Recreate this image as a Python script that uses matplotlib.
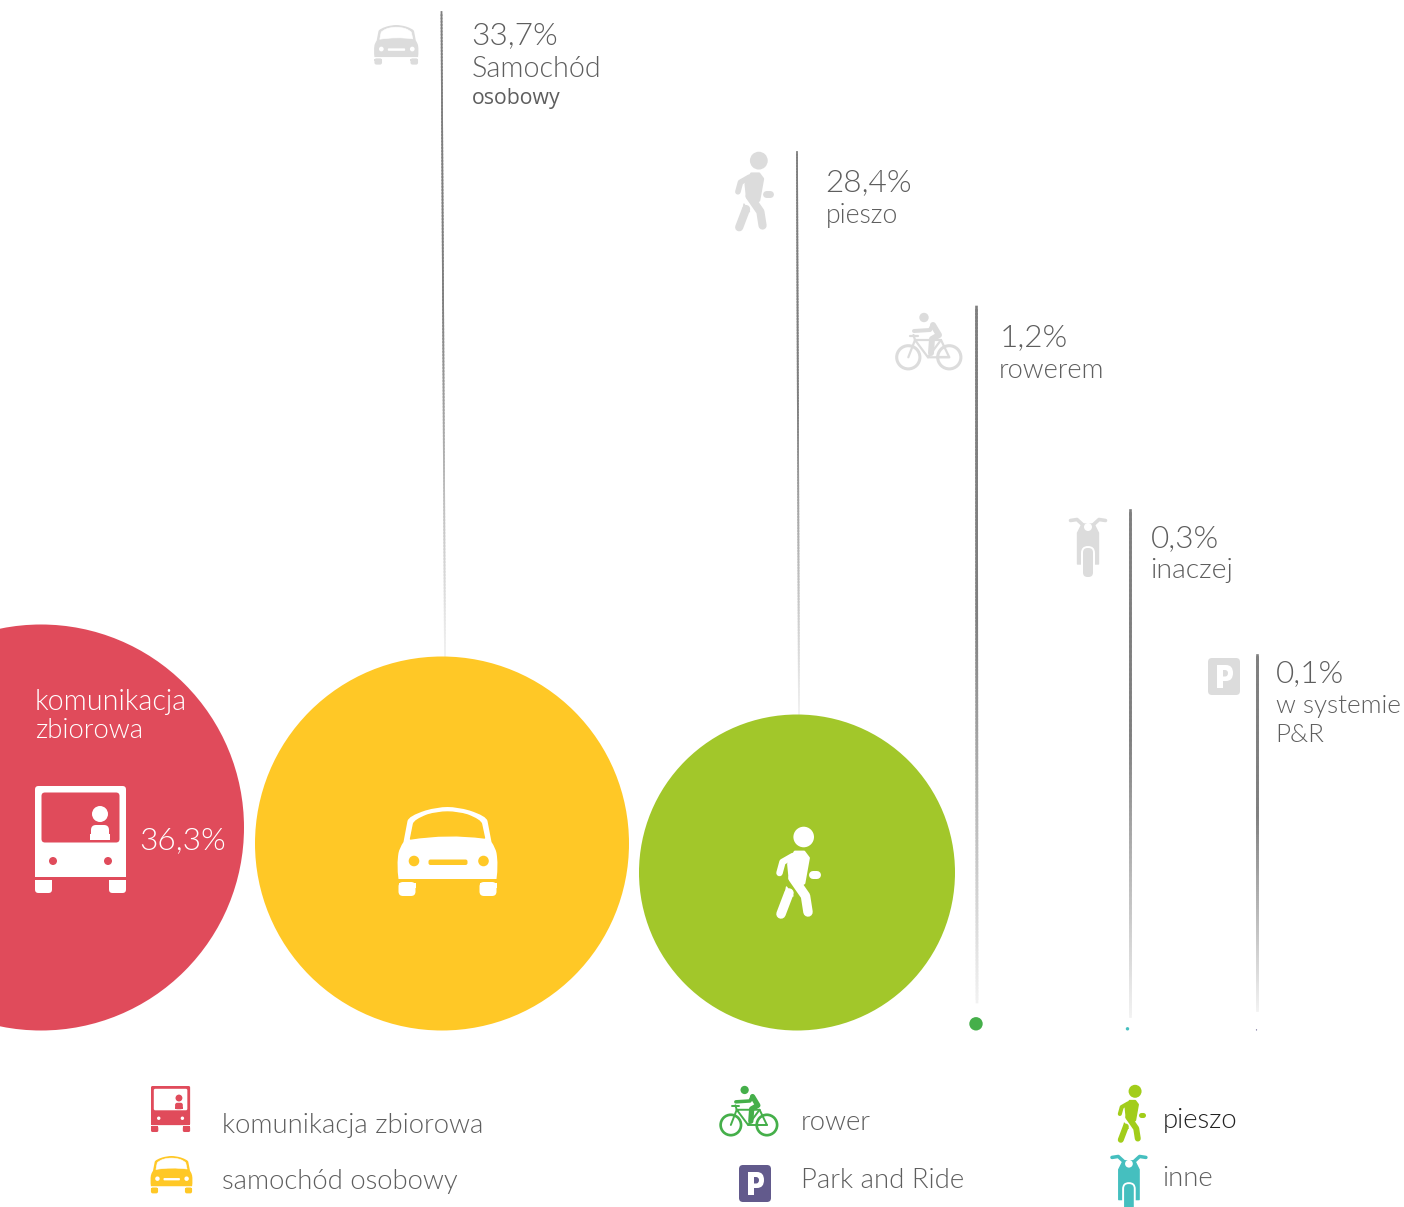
#!/usr/bin/env python3
# -*- coding: utf-8 -*-
import numpy as np
import matplotlib
matplotlib.use('Agg')
import matplotlib.pyplot as plt
from matplotlib.collections import LineCollection
from matplotlib.patches import Circle, FancyBboxPatch, PathPatch, Rectangle
from matplotlib.path import Path
from matplotlib.transforms import Affine2D

W, H = 1404, 1207

#%% data
shares = [36.3, 33.7, 28.4, 1.2, 0.3, 0.1]
share_labels = ['36,3%', '33,7%', '28,4%', '1,2%', '0,3%', '0,1%']
mode_labels = [['komunikacja', 'zbiorowa'], ['Samochód', 'osobowy'], ['pieszo'],
               ['rowerem'], ['inaczej'], ['w systemie', 'P&R']]
legend_labels = ['komunikacja zbiorowa', 'samochód osobowy', 'rower', 'Park and Ride', 'pieszo', 'inne']

#%% layout and colours
RED, YELLOW, LIME = '#E04B5B', '#FFC826', '#A2C72A'
GREEN, PURPLE, TEAL = '#45AF4A', '#625A8C', '#45BFBF'
LIME2 = '#A2CD1A'
GREY = '#DCDCDC'
TEXT = '#5E5E5E'
colors = [RED, YELLOW, LIME, GREEN, TEAL, PURPLE]
center_x = [41, 442, 797, 976, 1127.5, 1256.5]
# bubble radius in pixels, close to 5.57 px per percent point
radii = [203, 187, 158, 6.7, 1.7, 0.6]
base_y = 1030.5

FONT = 'Lato'
plt.rcParams['font.family'] = [FONT, 'DejaVu Sans']

fig = plt.figure(figsize=(W / 100, H / 100), dpi=100, facecolor='white')
ax = fig.add_axes([0, 0, 1, 1])
ax.set_xlim(0, W)
ax.set_ylim(H, 0)
ax.axis('off')


def place(x0, y0, s):
    # local icon coordinates -> picture pixels
    return Affine2D().scale(s).translate(x0, y0) + ax.transData


def smooth(pts, fc, tr, lw=0.0, z=3):
    # closed polygon with rounded corners from the stroke
    p = Path(list(pts) + [pts[0]], closed=True)
    ax.add_patch(PathPatch(p, fc=fc, ec=fc, lw=lw, joinstyle='round', transform=tr, zorder=z))


def limb(pts, fg, width, tr, s):
    # width in local pixels, round ends
    a = np.array(pts)
    ax.plot(a[:, 0], a[:, 1], color=fg, lw=width * s * 0.72, transform=tr, zorder=3,
            solid_capstyle='round', solid_joinstyle='round')


def bus(x0, y0, s, fg, bg, person):
    # local frame: 91 x 107
    tr = place(x0, y0, s)
    ax.add_patch(FancyBboxPatch((3, 3), 85, 85, boxstyle='round,pad=3,rounding_size=3.5', fc=fg, ec='none', transform=tr, zorder=3))
    ax.add_patch(Rectangle((0, 60), 91, 31, fc=fg, ec='none', transform=tr, zorder=3))
    ax.add_patch(FancyBboxPatch((9.5, 9.5), 72, 44, boxstyle='round,pad=3,rounding_size=3.5', fc=bg, ec='none', transform=tr, zorder=4))
    ax.add_patch(Circle((65, 28), 8, fc=person, ec='none', transform=tr, zorder=5))
    ax.add_patch(FancyBboxPatch((59, 42), 12, 9, boxstyle='round,pad=3,rounding_size=5', fc=person, ec='none', transform=tr, zorder=5))
    ax.add_patch(Rectangle((55, 48), 20, 6, fc=person, ec='none', transform=tr, zorder=5))
    for cx in (18, 73):
        ax.add_patch(Circle((cx, 75), 4, fc=bg, ec='none', transform=tr, zorder=4))
    for wx in (0, 74):
        ax.add_patch(FancyBboxPatch((wx + 3, 97), 11, 7, boxstyle='round,pad=3,rounding_size=3.5', fc=fg, ec='none', transform=tr, zorder=3))
        ax.add_patch(Rectangle((wx, 94), 17, 6, fc=fg, ec='none', transform=tr, zorder=3))


def car(x0, y0, s, fg, bg):
    # local frame: 100 x 90
    tr = place(x0, y0, s)
    M, L, C = Path.MOVETO, Path.LINETO, Path.CURVE3
    body = [(1, 72), (-1, 58), (1, 46), (2, 41), (6, 35), (10, 14), (11, 9), (28, 3.5), (40, 0), (50, 0),
            (60, 0), (72, 3.5), (89, 9), (90, 14), (94, 35), (98, 41), (99, 46), (101, 58), (99, 72), (1, 72)]
    codes = [M, C, C, C, C, L, C, C, C, C, C, C, C, C, L, C, C, C, C, Path.CLOSEPOLY]
    ax.add_patch(PathPatch(Path(body, codes), fc=fg, ec='none', transform=tr, zorder=3))
    glass = [(16, 17), (17, 13), (30, 8), (40, 5), (50, 5), (60, 5), (70, 8), (83, 13), (84, 17),
             (87, 31), (50, 26), (13, 32), (16, 17)]
    gcodes = [M, C, C, C, C, C, C, C, C, L, C, C, Path.CLOSEPOLY]
    ax.add_patch(PathPatch(Path(glass, gcodes), fc=bg, ec=bg, lw=s, joinstyle='round', transform=tr, zorder=4))
    for cx in (16.5, 86):
        ax.add_patch(Circle((cx, 54), 5.3, fc=bg, ec='none', transform=tr, zorder=4))
    ax.add_patch(FancyBboxPatch((32, 53.5), 37, 3.5, boxstyle='round,pad=1,rounding_size=2', fc=bg, ec='none', transform=tr, zorder=4))
    for wx in (1, 82):
        ax.add_patch(FancyBboxPatch((wx + 4, 79), 9, 6, boxstyle='round,pad=4,rounding_size=4.5', fc=fg, ec='none', transform=tr, zorder=3))
        ax.add_patch(Rectangle((wx, 75.5), 17, 5, fc=fg, ec='none', transform=tr, zorder=3))


def walker(x0, y0, s, fg):
    # local frame: 45 x 92
    tr = place(x0, y0, s)
    ax.add_patch(Circle((28.7, 10), 10.3, fc=fg, ec='none', transform=tr, zorder=3))
    smooth([(20, 25), (29, 25), (33.5, 31), (29, 56), (22, 60), (15, 52), (13.5, 37)], fg, tr, lw=2 * s)
    limb([(18, 51), (30.5, 69), (33, 85)], fg, 9.5, tr, s)
    limb([(18, 29), (7.5, 35), (4.5, 46)], fg, 6.5, tr, s)
    limb([(14, 66), (6, 87)], fg, 9.5, tr, s)
    smooth([(11.5, 60), (18, 69), (10, 69)], fg, tr, lw=s)
    limb([(37.5, 48), (41.5, 48)], fg, 8, tr, s)


def bike(x0, y0, s, fg):
    # local frame: 66 x 58
    tr = place(x0, y0, s)
    lw = 2.2 * s
    for cx in (12.3, 53.3):
        ax.add_patch(Circle((cx, 44.3), 11.6, fc='none', ec=fg, lw=lw, transform=tr, zorder=3))
    frame = [[(12.3, 44.3), (19, 27), (45, 27), (53.3, 44.3), (32, 44.3), (19, 27)],
             [(17.5, 22), (19, 27)], [(45, 27), (32, 44.3)], [(53.3, 44.3), (41, 44.3)], [(14, 22.5), (22, 22.5)]]
    for seg in frame:
        a = np.array(seg)
        ax.plot(a[:, 0], a[:, 1], color=fg, lw=lw * 0.72, transform=tr, zorder=3, solid_capstyle='round')
    ax.add_patch(Circle((28, 4.5), 4.7, fc=fg, ec='none', transform=tr, zorder=3))
    limb([(18, 18), (34, 17), (36, 13)], fg, 4, tr, s)
    limb([(37, 12), (43, 22), (36, 26), (35, 40)], fg, 6, tr, s)


def moto(x0, y0, s, fg):
    # local frame: 38 x 60
    tr = place(x0, y0, s)
    limb([(1.5, 2.5), (8, 1.5), (14, 7)], fg, 3.6, tr, s)
    limb([(36.5, 2.5), (30, 1.5), (24, 7)], fg, 3.6, tr, s)
    smooth([(13, 6), (25, 6), (29.5, 15), (29.5, 46), (8.5, 46), (8.5, 15)], fg, tr, lw=s)
    ax.add_patch(Circle((19, 9), 4, fc='white', ec='none', transform=tr, zorder=4))
    ax.add_patch(FancyBboxPatch((15, 31), 8, 20, boxstyle='round,pad=3,rounding_size=7', fc='white', ec='none', transform=tr, zorder=4))
    ax.add_patch(FancyBboxPatch((16, 32), 6, 25, boxstyle='round,pad=2,rounding_size=4.5', fc=fg, ec='none', transform=tr, zorder=5))


def parking(x0, y0, s, fg):
    # local frame: 32 x 37
    tr = place(x0, y0, s)
    ax.add_patch(FancyBboxPatch((2.5, 2.5), 27, 32, boxstyle='round,pad=2.5,rounding_size=4', fc=fg, ec='none', transform=tr, zorder=3))
    M, L, C = Path.MOVETO, Path.LINETO, Path.CURVE3
    verts = [(9, 7), (18, 7), (25, 7), (25, 15), (25, 23), (18, 23), (15, 23), (15, 30), (9, 30), (9, 7),
             (15, 12), (15, 18.5), (17, 18.5), (20, 18.5), (20, 15), (20, 12), (17, 12), (15, 12)]
    codes = [M, L, C, C, C, C, L, L, L, Path.CLOSEPOLY, M, L, L, C, C, C, C, Path.CLOSEPOLY]
    ax.add_patch(PathPatch(Path(verts, codes), fc='white', ec='none', transform=tr, zorder=4))


#%% bubbles, bottom aligned
for cx, r, c in zip(center_x, radii, colors):
    ax.add_patch(Circle((cx, base_y - r), r, fc=c, ec='none', zorder=2))

#%% fading leader lines
line_top = [12, 152, 307, 510, 655]
line_bottom = [656, 715, 1002, 1016, 1010]
line_x_top = [441.5, 797, 976.5, 1129.5, 1256.5]
line_x_bottom = [445, 799, 977, 1129.5, 1256.5]
line_width = [1.3, 1.3, 1.9, 1.9, 1.9]
for x0, x1, y0, y1, lw in zip(line_x_top, line_x_bottom, line_top, line_bottom, line_width):
    t = np.linspace(0, 1, 200)
    xs = x0 + (x1 - x0) * t
    ys = y0 + (y1 - y0) * t
    segs = [[(xs[i], ys[i]), (xs[i + 1], ys[i + 1])] for i in range(len(t) - 1)]
    # stays grey for the upper half, then fades out (opaque so joints do not show)
    fade = np.clip((1 - t[:-1]) / 0.55, 0, 1)
    cols = [(g, g, g) for g in 0.95 - 0.45 * fade]
    ax.add_collection(LineCollection(segs, colors=cols, linewidths=lw, zorder=1, capstyle='projecting'))

#%% icons in the bubbles and next to the lines
bus(35, 786, 1.0, 'white', RED, 'white')
car(397.5, 807, 1.0, 'white', YELLOW)
walker(775, 827, 1.0, 'white')

car(374, 25, 0.445, GREY, 'white')
walker(734, 152, 0.865, GREY)
bike(896, 313, 1.0, GREY)
moto(1069, 518, 1.0, GREY)
parking(1208, 658, 1.0, GREY)

#%% legend icons
bus(151, 1086, 0.43, RED, 'white', RED)
car(150.5, 1156, 0.42, YELLOW, 'white')
bike(720, 1086, 0.88, GREEN)
parking(739, 1165, 1.0, PURPLE)
walker(1117, 1085, 0.63, LIME2)
moto(1110.5, 1155, 0.97, TEAL)


def label(x, y, s, size, color=TEXT, family=None, weight=300):
    ax.text(x, y, s, fontsize=size, color=color, family=family or FONT, weight=weight,
            ha='left', va='baseline', zorder=6)


#%% value labels
value_pos = [(139.5, 849), (471, 44), (825, 191), (1000, 346), (1151, 547), (1276, 682)]
for i, (p, s) in enumerate(zip(value_pos, share_labels)):
    label(p[0], p[1], s, 22.8, color='white' if i == 0 else TEXT)

SUB = 19.8
label(35, 710, mode_labels[0][0], 20.6, color='white')
label(35, 738, mode_labels[0][1], 19.8, color='white')
label(472, 77, mode_labels[1][0], 20.6)
label(472, 104, mode_labels[1][1], 15.3, family='Open Sans', weight='normal')
label(826, 223, mode_labels[2][0], 19.2)
label(999, 378, mode_labels[3][0], 19.6)
label(1150.5, 578, mode_labels[4][0], 20.3)
label(1276, 713, mode_labels[5][0], 18.7)
label(1275.5, 742, mode_labels[5][1], 18.7)

#%% legend labels
legend_pos = [(222, 1133), (222, 1189), (801, 1130), (801, 1188), (1163, 1128), (1162, 1186)]
for p, s in zip(legend_pos, legend_labels):
    label(p[0], p[1], s, SUB, color='#222222' if s == 'pieszo' else TEXT)

fig.savefig('out.png', dpi=100)
